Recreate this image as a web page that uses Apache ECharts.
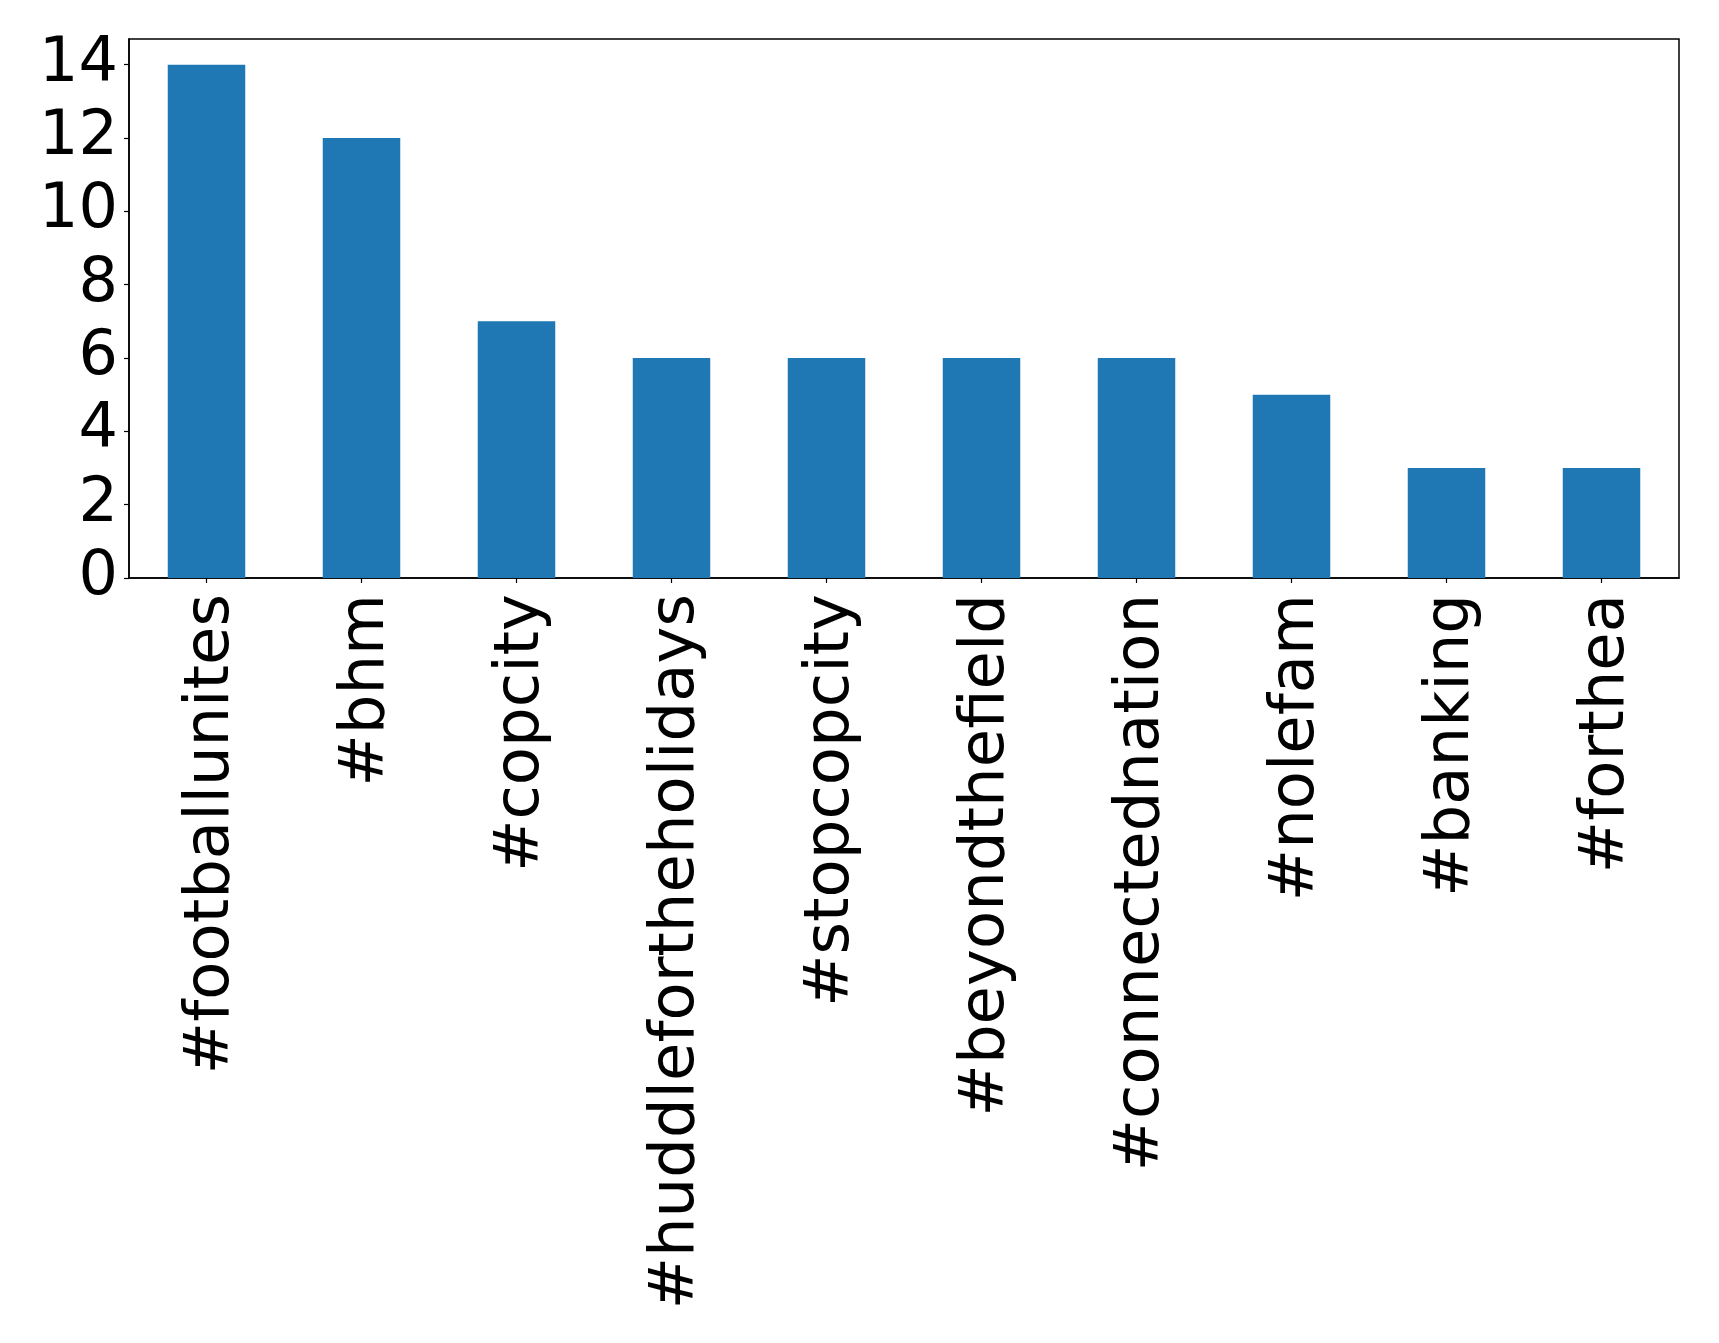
<!DOCTYPE html>
<html>
<head>
<meta charset="utf-8">
<script src="https://cdn.jsdelivr.net/npm/echarts@6/dist/echarts.min.js"></script>
<style>
html,body{margin:0;padding:0;background:#fff;}
#c{width:1719px;height:1343px;}
</style>
</head>
<body>
<div id="c"></div>
<script>
const categories = ['#footballunites', '#bhm', '#copcity', '#huddlefortheholidays', '#stopcopcity', '#beyondthefield', '#connectednation', '#nolefam', '#banking', '#forthea'];
const counts = [14, 12, 7, 6, 6, 6, 6, 5, 3, 3];
const yTicks = [0, 2, 4, 6, 8, 10, 12, 14];

const chart = echarts.init(document.getElementById('c'), null, {renderer: 'canvas'});
const font = 'DejaVu Sans';
chart.setOption({
  animation: false,
  backgroundColor: '#ffffff',
  grid: {
    left: 129, top: 39, width: 1550, height: 539,
    show: true, borderColor: '#000', borderWidth: 1.5, backgroundColor: 'transparent'
  },
  xAxis: {
    type: 'category',
    data: categories,
    boundaryGap: true,
    axisLine: {show: true, lineStyle: {color: '#000', width: 1.5}},
    axisTick: {show: true, alignWithLabel: true, length: 5, lineStyle: {color: '#000', width: 1.2}},
    axisLabel: {
      rotate: 90, interval: 0, margin: 16,
      fontFamily: font, fontSize: 62.5, color: '#000',
      verticalAlign: 'top', lineHeight: 10
    },
    splitLine: {show: false}
  },
  yAxis: {
    type: 'value',
    min: 0, max: 14.7, interval: 2,
    axisLine: {show: true, lineStyle: {color: '#000', width: 1.5}},
    axisTick: {show: true, length: 5, lineStyle: {color: '#000', width: 1.2}},
    axisLabel: {
      margin: 11, fontFamily: font, fontSize: 62, color: '#000',
      showMaxLabel: false,
      formatter: v => (yTicks.indexOf(v) >= 0 ? String(v) : '')
    },
    splitLine: {show: false}
  },
  series: [{
    type: 'bar',
    data: counts,
    barWidth: '50%',
    itemStyle: {color: '#1f77b4'}
  }]
});
</script>
</body>
</html>
